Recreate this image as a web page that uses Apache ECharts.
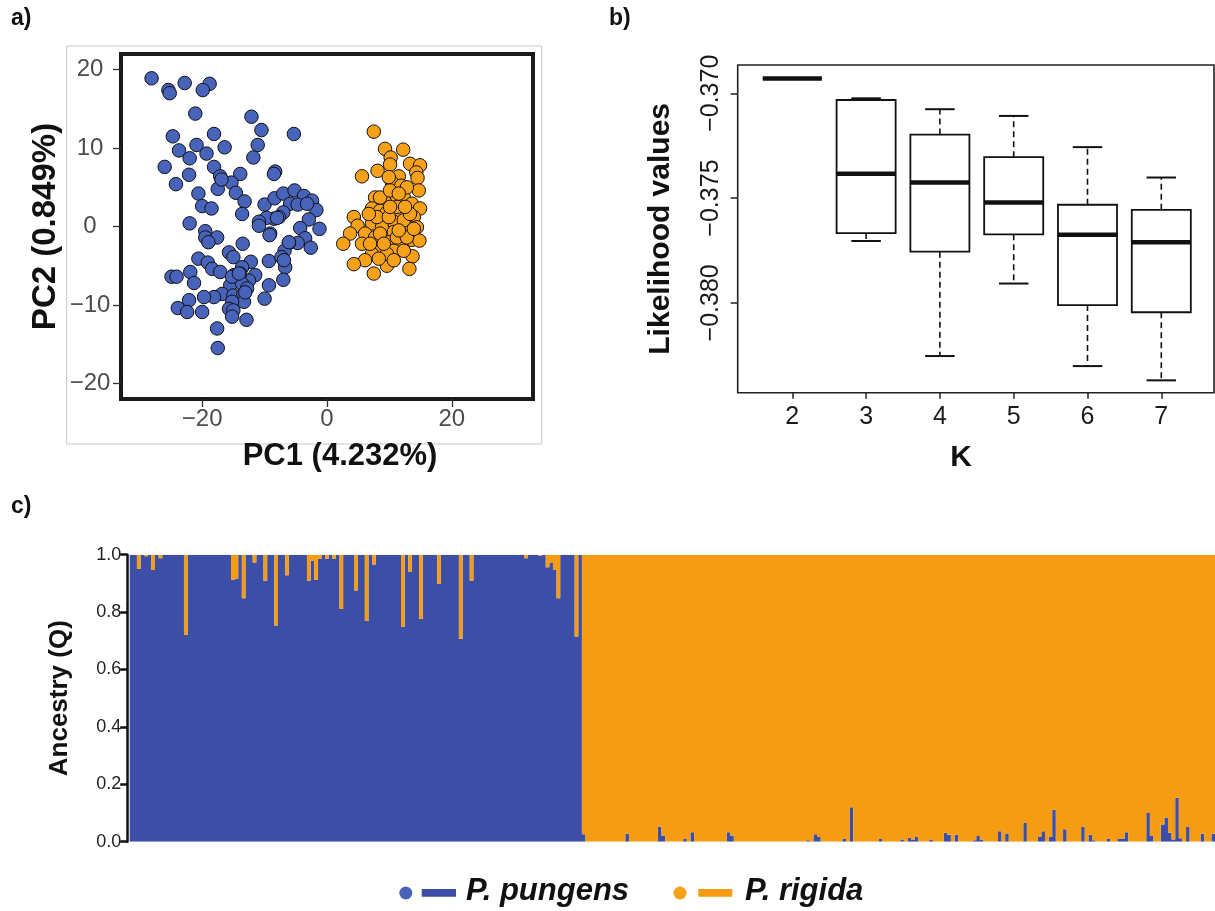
<!DOCTYPE html>
<html><head><meta charset="utf-8">
<script src="https://cdn.jsdelivr.net/npm/echarts@6/dist/echarts.min.js"></script>
<style>html,body{margin:0;padding:0;background:#fff}#c{width:1215px;height:911px}</style>
</head><body><div id="c"></div>
<script>
// ---------- a) PCA ----------
const pungensPC1 = [-28.1,-25.4,-25.2,-22.8,-18.8,-19.9,-21.1,-12.1,-10.5,-5.3,-18.1,-24.7,-20.9,-16.4,-11.1,-23.7,-19.3,-22.0,-11.8,-26.0,-18.1,-22.1,-17.1,-13.9,-8.3,-8.5,-24.2,-17.5,-15.3,-16.9,-20.6,-14.6,-13.2,-20.0,-18.5,-13.6,-22.0,-10.0,-8.4,-7.0,-5.2,-3.7,-2.4,-1.7,-5.9,-4.7,-3.2,-7.0,-8.5,-9.7,-10.9,-10.9,-7.7,-2.9,-4.3,-1.2,-9.1,-9.2,-19.5,-19.5,-17.6,-19.0,-13.5,-3.5,-4.7,-6.1,-2.6,-6.8,-15.7,-15.0,-20.6,-19.1,-18.4,-17.1,-12.2,-13.6,-9.3,-7.3,-6.7,-21.9,-24.9,-24.1,-21.3,-11.5,-12.5,-14.9,-13.9,-15.5,-13.6,-12.8,-7.0,-9.3,-16.8,-18.1,-19.7,-15.0,-13.4,-13.3,-15.2,-15.7,-15.0,-15.2,-12.9,-22.1,-23.9,-22.4,-20.0,-10.0,-17.6,-17.5,-15.2,-14.1,-13.1,-6.9,-6.1,-8.0];
const pungensPC2 = [18.9,17.4,17.0,18.3,18.2,17.4,14.4,14.0,12.3,11.8,11.8,11.5,10.4,10.1,10.4,9.7,9.3,8.7,8.8,7.6,7.6,6.6,6.4,6.7,7.0,6.7,5.4,4.8,5.6,6.0,4.2,4.3,3.2,2.6,2.3,1.6,0.4,2.8,3.6,4.2,4.6,3.9,3.3,2.1,2.9,2.8,2.9,1.8,1.0,1.1,0.6,0.1,1.2,0.9,-0.2,-0.3,-0.9,-1.1,-0.6,-1.4,-1.4,-2.0,-2.2,-1.5,-2.1,-2.1,-2.7,-3.1,-3.3,-3.9,-4.1,-4.6,-5.4,-5.8,-4.5,-5.2,-4.4,-3.9,-5.2,-5.8,-6.4,-6.4,-7.2,-6.2,-6.9,-6.2,-6.0,-7.5,-7.3,-7.9,-6.8,-7.5,-8.6,-9.0,-9.0,-8.8,-8.6,-9.6,-9.6,-10.5,-10.7,-11.5,-11.9,-9.4,-10.4,-10.9,-10.9,-9.2,-13.0,-15.5,-6.4,-6.0,-8.4,-4.3,-2.0,1.1];
const rigidaPC1 = [7.5,9.3,12.2,10.2,10.1,13.3,14.9,14.3,5.6,8.1,11.5,14.5,10.4,11.9,14.7,7.7,12.3,10.9,9.3,13.6,14.9,7.2,8.5,11.7,9.5,4.3,13.9,7.2,4.9,10.7,12.8,14.4,8.8,3.7,6.1,10.7,7.7,2.6,5.6,9.9,11.7,13.6,14.8,8.3,7.2,10.7,13.7,6.1,9.1,4.3,9.6,7.5,13.2,8.5,10.1,12.8,11.2,8.0,9.9,12.3,8.5,11.2,12.8,9.6,6.9,12.3,13.3,13.9,6.7,9.1,10.7,8.3,11.5,10.1,12.5,11.5,9.9];
const rigidaPC2 = [12.1,9.9,9.8,8.8,7.9,8.0,7.8,6.9,6.4,7.1,6.4,6.2,5.6,5.2,4.6,3.7,3.7,3.3,3.1,2.9,2.3,2.3,2.0,1.8,1.7,1.2,1.2,0.4,0.1,0.6,0.1,-0.1,-0.1,-0.9,-0.9,-0.7,-1.4,-2.2,-2.2,-2.0,-2.2,-1.7,-1.8,-2.8,-3.5,-3.1,-3.8,-4.3,-4.2,-4.8,-5.0,-6.0,-5.4,3.7,4.6,5.0,2.5,1.2,1.2,0.8,-0.9,-1.4,-1.4,-3.5,-2.2,-3.1,1.6,-0.3,1.6,-2.2,-4.3,-4.1,-0.5,2.5,2.5,4.2,6.3];
const pcXTicks = [-20, 0, 20];
const pcYTicks = [-20, -10, 0, 10, 20];

// ---------- b) likelihood by K ----------
const kLabels = ['2','3','4','5','6','7'];
const kLower  = [-0.36929,-0.37705,-0.38254,-0.37908,-0.38302,-0.38370];
const kQ1     = [-0.36929,-0.37667,-0.37756,-0.37673,-0.38011,-0.38045];
const kMedian = [-0.36929,-0.37384,-0.37426,-0.37521,-0.37675,-0.37711];
const kQ3     = [-0.36929,-0.37032,-0.37197,-0.37305,-0.37532,-0.37556];
const kUpper  = [-0.36929,-0.37024,-0.37076,-0.37108,-0.37257,-0.37402];
const likTicks = [-0.380, -0.375, -0.370];

// ---------- c) ancestry (membership in P. pungens cluster) ----------
const ancestryPungens = [
 1,1,0.95,1,0.995,1,0.947,1,0.988,1,
 1,1,1,1,1,0.72,1,1,1,1,
 1,1,1,1,1,1,1,1,0.913,0.916,
 1,0.848,1,1,0.973,1,1,0.909,1,1,
 0.753,1,1,0.928,1,1,1,1,1,0.909,
 0.979,0.913,0.986,1,0.986,1,0.986,1,0.811,1,
 1,1,0.875,1,1,0.769,1,0.966,1,1,
 1,1,1,1,1,0.749,1,0.94,1,1,
 0.776,1,1,1,1,0.898,1,1,1,1,
 1,0.707,1,1,0.909,1,1,1,1,1,
 1,1,1,1,1,1,1,1,1,0.988,
 1,1,1,0.996,1,0.956,0.973,0.948,0.848,1,
 1,1,1,0.715,1];
const ancestryRigida = [
 0.026,0,0,0,0,0,0,0,0,0,
 0,0,0.029,0,0,0,0,0,0,0,
 0,0.051,0.022,0,0,0,0,0,0.009,0,
 0.033,0,0,0,0,0,0,0,0,0,
 0.033,0.022,0,0,0,0,0,0,0,0,
 0,0,0,0,0,0,0,0,0,0,
 0,0,0.005,0,0.026,0.016,0,0,0,0,
 0,0,0.009,0,0.12,0,0,0,0,0,
 0,0,0.009,0,0,0,0,0,0.008,0,
 0.013,0.008,0.016,0,0,0,0.008,0,0,0,
 0.031,0.024,0,0.024,0,0,0,0,0.005,0.02,
 0.008,0,0,0,0,0.036,0,0.029,0,0,
 0,0,0.066,0,0,0,0.016,0.036,0,0.016,
 0.111,0,0,0.043,0,0,0,0,0.051,0,
 0.024,0.005,0,0,0,0.009,0,0,0.009,0.009,
 0.033,0,0,0,0,0,0.1,0.02,0,0,
 0.06,0.084,0.031,0.008,0.153,0.012,0,0.051,0,0,
 0,0.028,0,0,0.028];

const BLUE_PT = '#4864ba', ORANGE_PT = '#f7a11a';
const BLUE_BAR = '#3d4ea6', ORANGE_BAR = '#f59c13';
const FONT = '"Liberation Sans", Arial, sans-serif';
const minus = v => (v < 0 ? '\u2212' : '') + Math.abs(v);

const qBlue = ancestryPungens.concat(ancestryRigida);
const qOrange = qBlue.map(v => +(1 - v).toFixed(4));
const indiv = qBlue.map((_, i) => String(i + 1));

const chart = echarts.init(document.getElementById('c'), null, {renderer: 'canvas'});

function boxItem(params, api) {
  const i = api.value(0);
  const lo = api.coord([i, api.value(1)]);
  const q1 = api.coord([i, api.value(2)]);
  const md = api.coord([i, api.value(3)]);
  const q3 = api.coord([i, api.value(4)]);
  const hi = api.coord([i, api.value(5)]);
  const bw = api.size([1, 0])[0];
  const cx = md[0], hb = bw * 0.4, hc = bw * 0.2;
  const dash = {stroke: '#111', lineWidth: 1.6, lineDash: [6, 4]};
  return {type: 'group', children: [
    {type: 'line', shape: {x1: cx, y1: q3[1], x2: cx, y2: hi[1]}, style: dash},
    {type: 'line', shape: {x1: cx, y1: q1[1], x2: cx, y2: lo[1]}, style: dash},
    {type: 'line', shape: {x1: cx - hc, y1: hi[1], x2: cx + hc, y2: hi[1]}, style: {stroke: '#111', lineWidth: 2}},
    {type: 'line', shape: {x1: cx - hc, y1: lo[1], x2: cx + hc, y2: lo[1]}, style: {stroke: '#111', lineWidth: 2}},
    {type: 'rect', shape: {x: cx - hb, y: q3[1], width: 2 * hb, height: q1[1] - q3[1]}, style: {stroke: '#111', lineWidth: 1.8, fill: '#fff'}},
    {type: 'line', shape: {x1: cx - hb, y1: md[1], x2: cx + hb, y2: md[1]}, style: {stroke: '#111', lineWidth: 4.5}}
  ]};
}

const option = {
  animation: false,
  backgroundColor: '#fff',
  textStyle: {fontFamily: FONT},
  grid: [
    {left: 121, top: 54, width: 412, height: 345, show: true, borderColor: '#1a1a1a', borderWidth: 4, backgroundColor: '#fff'},
    {left: 755.4, top: 65, width: 442.8, height: 327.7},
    {left: 129.7, top: 554.7, width: 1085.3, height: 287}
  ],
  xAxis: [
    {gridIndex: 0, type: 'value', min: -33, max: 33, position: 'bottom',
     axisLine: {show: false, onZero: false}, splitLine: {show: false},
     axisTick: {show: true, customValues: pcXTicks, length: 8, lineStyle: {color: '#333', width: 1.3}},
     axisLabel: {customValues: pcXTicks, formatter: minus, fontSize: 24, color: '#4d4d4d', margin: 8, fontFamily: FONT},
     name: 'PC1 (4.232%)', nameLocation: 'middle', nameGap: 42,
     nameTextStyle: {fontSize: 31, fontWeight: 'bold', color: '#111', fontFamily: FONT, padding: [0, 0, 0, 26]}},
    {gridIndex: 1, type: 'category', data: kLabels, boundaryGap: true,
     axisLine: {show: false, onZero: false}, splitLine: {show: false},
     axisTick: {show: true, alignWithLabel: true, length: 6, lineStyle: {color: '#222', width: 1.5}},
     axisLabel: {fontSize: 25, color: '#1a1a1a', margin: 12, fontFamily: FONT}},
    {gridIndex: 2, type: 'category', data: indiv, boundaryGap: true,
     axisLine: {show: false, onZero: false}, axisTick: {show: false}, axisLabel: {show: false}, splitLine: {show: false}}
  ],
  yAxis: [
    {gridIndex: 0, type: 'value', min: -22, max: 22, position: 'left',
     axisLine: {show: false, onZero: false}, splitLine: {show: false},
     axisTick: {show: true, customValues: pcYTicks, length: 8, lineStyle: {color: '#333', width: 1.3}},
     axisLabel: {customValues: pcYTicks, formatter: minus, fontSize: 24, color: '#4d4d4d', margin: 31, align: 'center', fontFamily: FONT},
     name: 'PC2 (0.849%)', nameLocation: 'middle', nameRotate: 90, nameGap: 59,
     nameTextStyle: {fontSize: 33, fontWeight: 'bold', color: '#111', fontFamily: FONT}},
    {gridIndex: 1, type: 'value', min: -0.38429, max: -0.36865, offset: 17.7,
     axisLine: {show: false, onZero: false}, splitLine: {show: false},
     axisTick: {show: true, customValues: likTicks, length: 7, lineStyle: {color: '#222', width: 1.5}},
     axisLabel: {customValues: likTicks, rotate: 90, fontSize: 25, color: '#1a1a1a', margin: 14, fontFamily: FONT,
                 formatter: v => (v < 0 ? '\u2212' : '') + Math.abs(v).toFixed(3)},
     name: 'Likelihood values', nameLocation: 'middle', nameRotate: 90, nameGap: 62,
     nameTextStyle: {fontSize: 30, fontWeight: 'bold', color: '#111', fontFamily: FONT}},
    {gridIndex: 2, type: 'value', min: 0, max: 1, interval: 0.2, offset: 2.5,
     axisLine: {show: true, onZero: false, lineStyle: {color: '#111', width: 2.5}}, splitLine: {show: false},
     axisTick: {show: true, length: 7, lineStyle: {color: '#111', width: 2.5}},
     axisLabel: {fontSize: 18, color: '#222', margin: 6, fontFamily: FONT, formatter: v => v.toFixed(1)},
     name: 'Ancestry (Q)', nameLocation: 'middle', nameRotate: 90, nameGap: 54,
     nameTextStyle: {fontSize: 26, fontWeight: 'bold', color: '#111', fontFamily: FONT}}
  ],
  series: [
    {type: 'scatter', xAxisIndex: 0, yAxisIndex: 0, symbolSize: 13.5,
     data: pungensPC1.map((x, i) => [x, pungensPC2[i]]),
     itemStyle: {color: BLUE_PT, borderColor: '#111', borderWidth: 1, opacity: 1}},
    {type: 'scatter', xAxisIndex: 0, yAxisIndex: 0, symbolSize: 13.5,
     data: rigidaPC1.map((x, i) => [x, rigidaPC2[i]]),
     itemStyle: {color: ORANGE_PT, borderColor: '#111', borderWidth: 1, opacity: 1}},
    {type: 'custom', xAxisIndex: 1, yAxisIndex: 1, renderItem: boxItem,
     encode: {x: 0, y: [1, 2, 3, 4, 5]},
     data: kLabels.map((k, i) => [i, kLower[i], kQ1[i], kMedian[i], kQ3[i], kUpper[i]])},
    {type: 'bar', xAxisIndex: 2, yAxisIndex: 2, stack: 'q', barCategoryGap: '0%', data: qBlue,
     large: true, largeThreshold: 50, itemStyle: {color: BLUE_BAR}},
    {type: 'bar', xAxisIndex: 2, yAxisIndex: 2, stack: 'q', barCategoryGap: '0%', data: qOrange,
     large: true, largeThreshold: 50, itemStyle: {color: ORANGE_BAR}}
  ],
  graphic: [
    {type: 'rect', shape: {x: 66.7, y: 46, width: 475, height: 398}, style: {stroke: '#c8c8c8', lineWidth: 1, fill: null}, z: 0},
    {type: 'rect', shape: {x: 737.7, y: 65, width: 476.3, height: 327.7}, style: {stroke: '#222', lineWidth: 1.6, fill: null}, z: 50},
    {type: 'text', left: 11, top: 7, style: {text: 'a)', font: 'bold 23px ' + FONT, fill: '#111'}},
    {type: 'text', left: 609, top: 7, style: {text: 'b)', font: 'bold 23px ' + FONT, fill: '#111'}},
    {type: 'text', left: 11, top: 495, style: {text: 'c)', font: 'bold 23px ' + FONT, fill: '#111'}},
    {type: 'text', x: 961, y: 458, style: {text: 'K', font: 'bold 30px ' + FONT, fill: '#111', align: 'center', verticalAlign: 'middle'}},
    {type: 'circle', shape: {cx: 405.8, cy: 893, r: 6.5}, style: {fill: BLUE_PT}},
    {type: 'rect', shape: {x: 421.7, y: 889, width: 34.3, height: 7.7}, style: {fill: BLUE_BAR}},
    {type: 'text', x: 466, y: 891, style: {text: 'P. pungens', font: 'italic bold 31px ' + FONT, fill: '#111', verticalAlign: 'middle'}},
    {type: 'circle', shape: {cx: 680, cy: 893, r: 6.5}, style: {fill: ORANGE_PT}},
    {type: 'rect', shape: {x: 698.3, y: 889, width: 34, height: 7.7}, style: {fill: ORANGE_BAR}},
    {type: 'text', x: 745, y: 891, style: {text: 'P. rigida', font: 'italic bold 31px ' + FONT, fill: '#111', verticalAlign: 'middle'}}
  ]
};
chart.setOption(option);
</script></body></html>
